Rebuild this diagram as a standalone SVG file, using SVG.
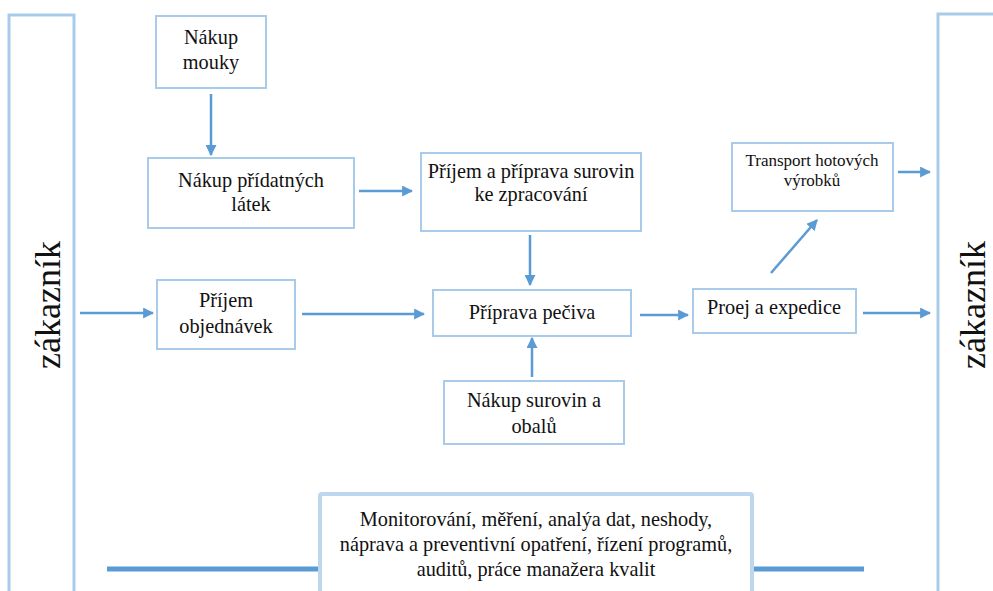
<svg xmlns="http://www.w3.org/2000/svg" width="993" height="591" viewBox="0 0 993 591">
<defs>
<style>
.box{fill:#fff;stroke:#a9cbea;stroke-width:2}
.side{fill:#fff;stroke:#a9cbea;stroke-width:3}
text{font-family:'Liberation Serif', 'Times New Roman', serif;font-size:20.3px;fill:#111;text-anchor:middle}
.ts{font-size:17px}
.big{font-size:36px}
.c{stroke:#5b9bd5;stroke-width:2.5;fill:none;marker-end:url(#ah)}
.bar{stroke:#5b9bd5;stroke-width:5}
</style>
<marker id="ah" viewBox="0 0 10 10" refX="9" refY="5" markerWidth="4.4" markerHeight="4.4" orient="auto" markerUnits="strokeWidth">
<path d="M0,0 L10,5 L0,10 z" fill="#5b9bd5"/>
</marker>
</defs>
<rect width="993" height="591" fill="#fff"/>
<g id="zakaznik-left">
<rect class="side" x="9" y="15" width="65" height="590"/>
<text class="big" transform="translate(60,305) rotate(-90)">zákazník</text>
</g>
<g id="zakaznik-right">
<rect class="side" x="938" y="14" width="70" height="590"/>
<text class="big" transform="translate(985,305) rotate(-90)">zákazník</text>
</g>
<g id="bars">
<line class="bar" x1="107" y1="569" x2="320" y2="569"/>
<line class="bar" x1="752" y1="569" x2="864" y2="569"/>
</g>
<g id="nakup-mouky">
<rect class="box" x="156" y="16" width="110" height="72"/>
<text x="211" y="44">Nákup</text>
<text x="211" y="69">mouky</text>
</g>
<g id="nakup-pridatnych">
<rect class="box" x="148" y="158" width="206" height="70"/>
<text x="251" y="187">Nákup přídatných</text>
<text x="251" y="211">látek</text>
</g>
<g id="prijem-priprava">
<rect class="box" x="421" y="153" width="220" height="78"/>
<text x="531" y="178">Příjem a příprava surovin</text>
<text x="531" y="201">ke zpracování</text>
</g>
<g id="priprava-peciva">
<rect class="box" x="433" y="290" width="198" height="46"/>
<text x="532" y="319">Příprava pečiva</text>
</g>
<g id="prijem-objednavek">
<rect class="box" x="157" y="280" width="138" height="69"/>
<text x="226" y="307">Příjem</text>
<text x="226" y="333">objednávek</text>
</g>
<g id="nakup-surovin">
<rect class="box" x="444" y="381" width="180" height="63"/>
<text x="534" y="407">Nákup surovin a</text>
<text x="534" y="433">obalů</text>
</g>
<g id="proej-expedice">
<rect class="box" x="693" y="289" width="163" height="44"/>
<text x="774" y="314">Proej a expedice</text>
</g>
<g id="transport">
<rect class="box" x="732" y="143" width="161" height="68"/>
<text class="ts" x="812" y="166">Transport hotových</text>
<text class="ts" x="812" y="186">výrobků</text>
</g>
<g id="monitoring">
<rect x="320" y="494" width="432" height="110" fill="#fff" stroke="#bdd7ee" stroke-width="4" rx="2"/>
<text x="536" y="526">Monitorování, měření, analýa dat, neshody,</text>
<text x="536" y="551">náprava a preventivní opatření, řízení programů,</text>
<text x="536" y="576">auditů, práce manažera kvalit</text>
</g>
<g id="connectors">
<line class="c" x1="211" y1="94" x2="211" y2="155"/>
<line class="c" x1="359" y1="191" x2="412" y2="191"/>
<line class="c" x1="530" y1="235" x2="530" y2="285"/>
<line class="c" x1="80" y1="313" x2="153" y2="313"/>
<line class="c" x1="302" y1="314" x2="424" y2="314"/>
<line class="c" x1="532" y1="377" x2="532" y2="338"/>
<line class="c" x1="640" y1="315" x2="688" y2="315"/>
<line class="c" x1="771" y1="273" x2="817" y2="220"/>
<line class="c" x1="898" y1="172" x2="930" y2="172"/>
<line class="c" x1="863" y1="313" x2="930" y2="313"/>
</g>
</svg>
